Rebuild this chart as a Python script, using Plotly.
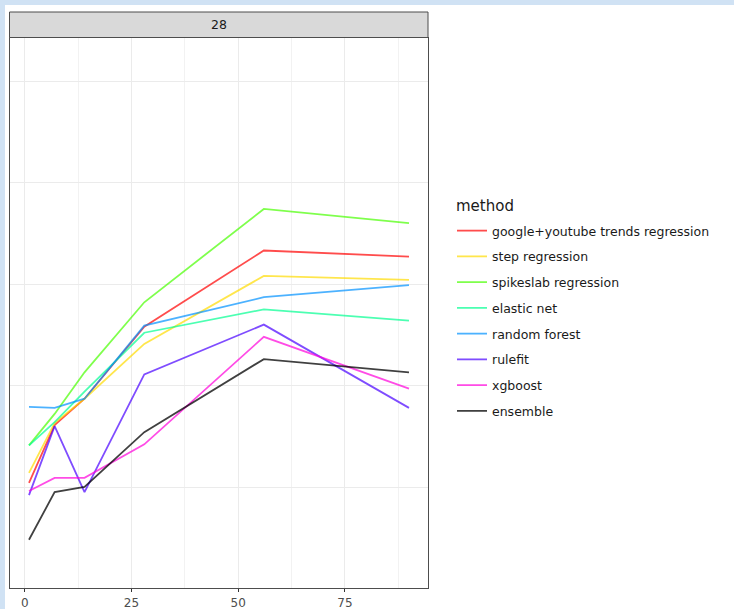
import plotly.graph_objects as go

# Forecast horizon (days) on the x axis
days = [1, 7, 14, 28, 56, 90]

methods = [
    "google+youtube trends regression",
    "step regression",
    "spikeslab regression",
    "elastic net",
    "random forest",
    "rulefit",
    "xgboost",
    "ensemble",
]

google_youtube = [0.204, 0.261, 0.287, 0.358, 0.433, 0.427]
step_reg = [0.214, 0.263, 0.287, 0.341, 0.408, 0.404]
spikeslab = [0.241, 0.272, 0.313, 0.382, 0.474, 0.460]
elastic_net = [0.241, 0.264, 0.294, 0.352, 0.375, 0.364]
random_forest = [0.279, 0.278, 0.287, 0.359, 0.387, 0.399]
rulefit = [0.192, 0.260, 0.195, 0.311, 0.360, 0.278]
xgboost = [0.196, 0.209, 0.209, 0.242, 0.348, 0.297]
ensemble = [0.148, 0.195, 0.200, 0.254, 0.326, 0.313]

series = [google_youtube, step_reg, spikeslab, elastic_net,
          random_forest, rulefit, xgboost, ensemble]

colors = [
    "rgba(255,0,0,0.7)",
    "rgba(255,219,0,0.7)",
    "rgba(73,255,0,0.7)",
    "rgba(0,255,146,0.7)",
    "rgba(0,146,255,0.7)",
    "rgba(73,0,255,0.7)",
    "rgba(255,0,219,0.7)",
    "rgba(0,0,0,0.75)",
]

FONT = "DejaVu Sans"

fig = go.Figure()
for name, vals, col in zip(methods, series, colors):
    fig.add_trace(go.Scatter(
        x=days, y=vals, mode="lines", name=name, legendgroup=name,
        line=dict(color=col, width=1.8),
    ))

W, H = 734, 609
L, R, T, B = 10, 306, 38, 21
pw, ph = W - L - R, H - T - B

def px_x(p):
    return (p - L) / pw

def px_y(p):
    return (H - B - p) / ph

band = "#d0e2f4"
shapes = [
    # facet strip
    dict(type="rect", xref="paper", yref="paper",
         x0=px_x(9.5), x1=px_x(428), y0=px_y(37.5), y1=px_y(12),
         fillcolor="#d9d9d9", line=dict(color="#4d4d4d", width=1), layer="above"),
    # page border bands
    dict(type="rect", xref="paper", yref="paper",
         x0=px_x(0), x1=px_x(5), y0=px_y(H), y1=px_y(0),
         fillcolor=band, line=dict(width=0), layer="above"),
    dict(type="rect", xref="paper", yref="paper",
         x0=px_x(0), x1=px_x(W), y0=px_y(5), y1=px_y(0),
         fillcolor=band, line=dict(width=0), layer="above"),
]

annotations = [
    dict(text="28", xref="paper", yref="paper", x=px_x(219), y=px_y(25),
         showarrow=False, font=dict(family=FONT, size=12.5, color="#1a1a1a"),
         xanchor="center", yanchor="middle"),
    dict(text="method", xref="paper", yref="paper", x=px_x(454), y=px_y(206),
         showarrow=False, font=dict(family=FONT, size=15, color="#1a1a1a"),
         xanchor="left", yanchor="middle"),
]

fig.update_layout(
    width=W, height=H,
    margin=dict(l=L, r=R, t=T, b=B, pad=0),
    paper_bgcolor="white",
    plot_bgcolor="white",
    font=dict(family=FONT, size=12, color="#1a1a1a"),
    shapes=shapes,
    annotations=annotations,
    legend=dict(
        x=px_x(452), y=px_y(216), xanchor="left", yanchor="top",
        font=dict(family=FONT, size=12.5, color="#1a1a1a"),
        tracegroupgap=6.5, itemwidth=30,
        bgcolor="rgba(0,0,0,0)",
    ),
    showlegend=True,
)

fig.update_xaxes(
    automargin=False,
    range=[-3.45, 94.45],
    tickvals=[0, 25, 50, 75], ticktext=["0", "25", "50", "75"],
    ticks="outside", ticklen=3, tickcolor="#333333", tickwidth=1,
    tickfont=dict(family=FONT, size=12, color="#4d4d4d"),
    showgrid=True, gridcolor="#ebebeb", gridwidth=1,
    minor=dict(tickvals=[12.5, 37.5, 62.5, 87.5], showgrid=True,
               gridcolor="#f2f2f2", gridwidth=1, ticklen=0),
    showline=True, linecolor="#4d4d4d", linewidth=1.2, mirror=True,
    zeroline=False,
)
fig.update_yaxes(
    automargin=False,
    range=[0.1005, 0.6424],
    tickvals=[0.2, 0.3, 0.4, 0.5, 0.6],
    showticklabels=False, ticks="",
    showgrid=True, gridcolor="#ebebeb", gridwidth=1,
    showline=True, linecolor="#4d4d4d", linewidth=1.2, mirror=True,
    zeroline=False,
)

fig.write_html("out.html")
